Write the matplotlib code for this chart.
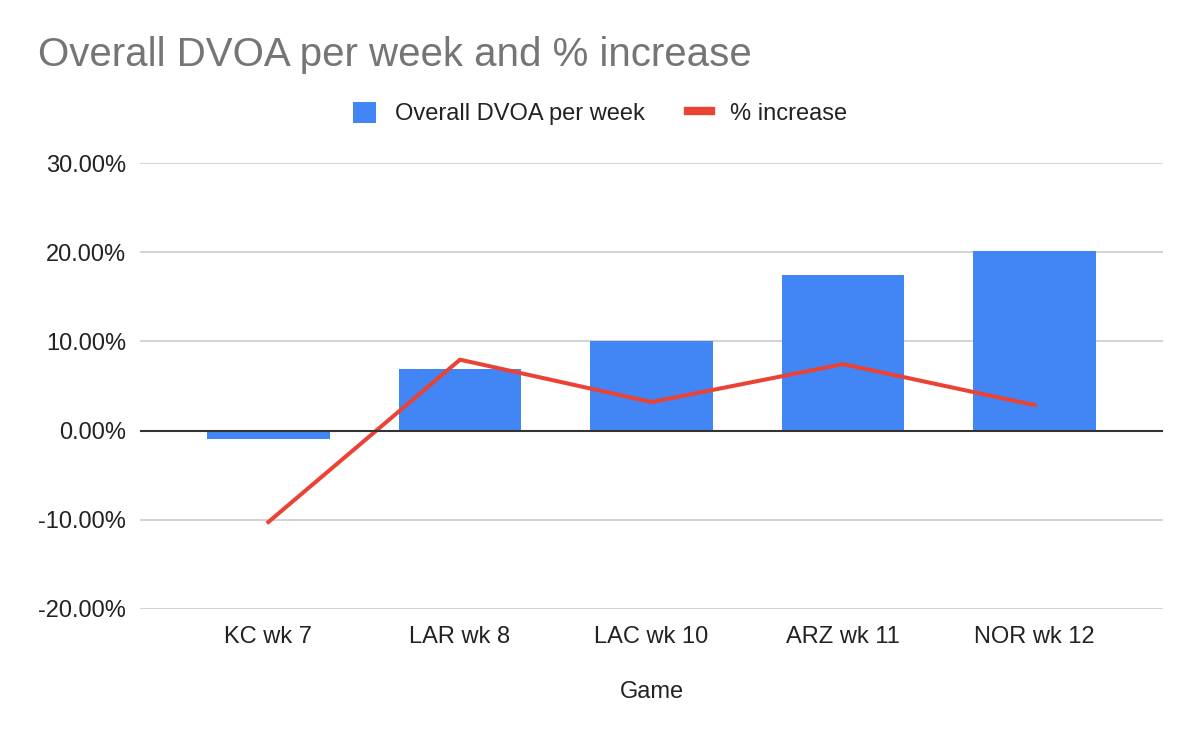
import matplotlib.pyplot as plt
from matplotlib.ticker import FuncFormatter
from matplotlib.lines import Line2D

games = ["KC wk 7", "LAR wk 8", "LAC wk 10", "ARZ wk 11", "NOR wk 12"]
dvoa = [-0.96, 6.95, 10.1, 17.5, 20.1]
pct_increase = [-10.25, 7.95, 3.2, 7.45, 2.85]

BLUE = "#4285F4"
RED = "#EA4335"
TXT = "#222222"

plt.rcParams["font.family"] = ["Liberation Sans", "DejaVu Sans"]

fig = plt.figure(figsize=(12, 7.42), dpi=100)
ax = fig.add_axes([0.1167, 0.1793, 0.9692 - 0.1167, 0.7803 - 0.1793])

x = list(range(len(games)))
bars = ax.bar(x, dvoa, width=0.64, color=BLUE, label="Overall DVOA per week", zorder=2)
ax.plot(x, pct_increase, color=RED, linewidth=2.9, zorder=3)

ax.set_ylim(-20, 30)
ax.set_xlim(-0.67, 4.67)
ax.set_yticks([-20, -10, 0, 10, 20, 30])
ax.yaxis.set_major_formatter(FuncFormatter(lambda v, p: f"{v:.2f}%"))
ax.set_xticks(x)
ax.set_xticklabels(games)

ax.grid(axis="y", color="#cccccc", linewidth=1.2, zorder=0)
ax.axhline(0, color="#333333", linewidth=1.5, zorder=4)
for s in ax.spines.values():
    s.set_visible(False)
ax.tick_params(axis="both", length=0, labelsize=17, colors=TXT)
ax.tick_params(axis="y", pad=10)
ax.tick_params(axis="x", pad=12)

ax.set_xlabel("Game", fontsize=17, color=TXT, labelpad=24)

fig.text(0.032, 0.911, "Overall DVOA per week and % increase", fontsize=29,
         color="#757575", va="baseline", ha="left")

# legend handle for the line: short thick dash like the sheets legend
line_handle = Line2D([], [], color=RED, linewidth=6, label="% increase")
leg = fig.legend(handles=[bars, line_handle], loc="center", bbox_to_anchor=(0.5, 0.847),
                 ncol=2, frameon=False, fontsize=17, handlelength=1.0,
                 handleheight=1.0, columnspacing=1.8, handletextpad=0.8)
for t in leg.get_texts():
    t.set_color(TXT)

fig.savefig("out.png", dpi=100)
